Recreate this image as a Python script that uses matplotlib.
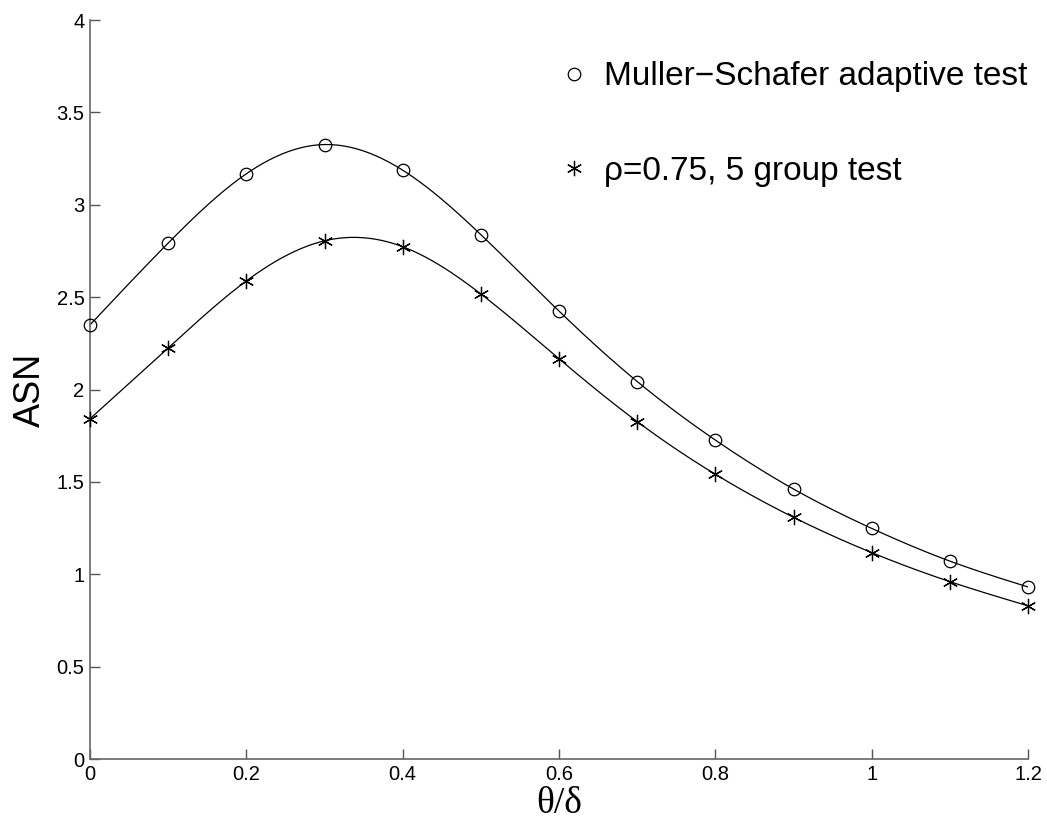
import numpy as np
import matplotlib
matplotlib.use("Agg")
import matplotlib.pyplot as plt

# values
theta = [0, 0.1, 0.2, 0.3, 0.4, 0.5, 0.6, 0.7, 0.8, 0.9, 1.0, 1.1, 1.2]
asn_ms = [2.35, 2.793, 3.168, 3.326, 3.187, 2.838, 2.424, 2.043, 1.726,
          1.461, 1.248, 1.071, 0.931]
asn_grp = [1.842, 2.225, 2.588, 2.805, 2.773, 2.517, 2.166, 1.826, 1.541,
           1.308, 1.117, 0.960, 0.829]
xticks = [0, 0.2, 0.4, 0.6, 0.8, 1, 1.2]
yticks = [0, 0.5, 1, 1.5, 2, 2.5, 3, 3.5, 4]


def smooth(x, y, n=300):
    """natural cubic spline through the points, only used to draw the line"""
    x = np.asarray(x, float)
    y = np.asarray(y, float)
    h = np.diff(x)
    m = len(x)
    A = np.zeros((m, m))
    b = np.zeros(m)
    A[0, 0] = A[-1, -1] = 1
    for i in range(1, m - 1):
        A[i, i - 1] = h[i - 1]
        A[i, i] = 2 * (h[i - 1] + h[i])
        A[i, i + 1] = h[i]
        b[i] = 6 * ((y[i + 1] - y[i]) / h[i] - (y[i] - y[i - 1]) / h[i - 1])
    M = np.linalg.solve(A, b)
    xs = np.linspace(x[0], x[-1], n)
    k = np.clip(np.searchsorted(x, xs) - 1, 0, m - 2)
    t0 = x[k + 1] - xs
    t1 = xs - x[k]
    hk = h[k]
    ys = (M[k] * t0**3 / (6 * hk) + M[k + 1] * t1**3 / (6 * hk)
          + (y[k] / hk - M[k] * hk / 6) * t0
          + (y[k + 1] / hk - M[k + 1] * hk / 6) * t1)
    return xs, ys


plt.rcParams['font.family'] = ['Liberation Sans', 'DejaVu Sans']

fig = plt.figure(figsize=(10.47, 8.27), dpi=100)
ax = fig.add_axes([0.086, 0.0822, 0.896, 0.8936])

for y, mk, ms, lab in [(asn_ms, 'o', 9, 'Muller\u2212Schafer adaptive test'),
                       (asn_grp, (6, 2, 0), 11, '\u03c1=0.75, 5 group test')]:
    xs, ys = smooth(theta, y)
    ax.plot(xs, ys, color='black', lw=0.9)
    ax.plot(theta, y, linestyle='none', marker=mk, ms=ms, mfc='none',
            mec='black', mew=0.9, label=lab, clip_on=False, zorder=3)

ax.set_xlim(0, 1.2)
ax.set_ylim(0, 4)
ax.set_xticks(xticks)
ax.set_xticklabels(['0', '0.2', '0.4', '0.6', '0.8', '1', '1.2'])
ax.set_yticks(yticks)
ax.set_yticklabels(['0', '0.5', '1', '1.5', '2', '2.5', '3', '3.5', '4'])
ax.tick_params(direction='in', length=7, width=1, colors='#555555',
               labelcolor='black', labelsize=14.5, pad=4)

for s in ['top', 'right']:
    ax.spines[s].set_visible(False)
for s in ['left', 'bottom']:
    ax.spines[s].set_color('#666666')
    ax.spines[s].set_linewidth(1.2)

ax.set_ylabel('ASN', fontsize=26, labelpad=6)
ax.set_xlabel('\u03b8/\u03b4', fontsize=27, family=['Liberation Serif', 'DejaVu Serif'],
              labelpad=2)

ax.legend(loc='upper left', bbox_to_anchor=(0.484, 0.962), frameon=False,
          fontsize=24, handlelength=1.0, handletextpad=0.4, labelspacing=1.9,
          borderaxespad=0)

fig.savefig('out.png', dpi=100)
